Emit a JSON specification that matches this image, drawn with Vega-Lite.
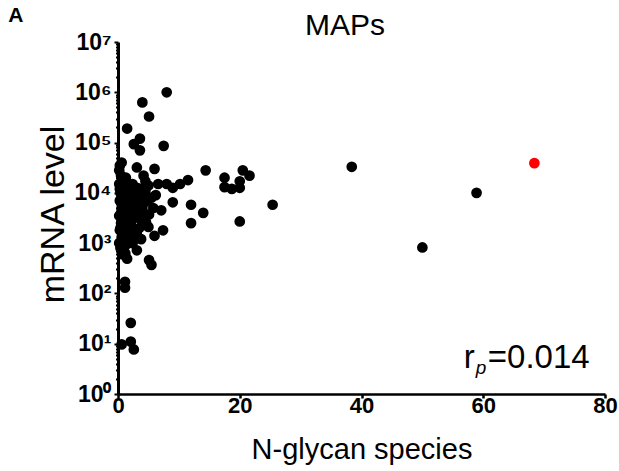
{
  "$schema": "https://vega.github.io/schema/vega-lite/v6.json",
  "autosize": {"type": "none"},
  "padding": {"left": 118, "top": 42, "right": 14, "bottom": 77},
  "width": 487,
  "height": 352,
  "background": "white",
  "config": {
    "view": {"stroke": null},
    "font": "Liberation Sans"
  },
  "layer": [
    {
      "data": {
        "values": [
          {"x": 8.0, "y": 1000000, "g": "other"},
          {"x": 4.0, "y": 630000, "g": "other"},
          {"x": 5.1, "y": 330000, "g": "other"},
          {"x": 1.5, "y": 190000, "g": "other"},
          {"x": 3.6, "y": 120000, "g": "other"},
          {"x": 2.6, "y": 93000, "g": "other"},
          {"x": 3.6, "y": 70000, "g": "other"},
          {"x": 7.5, "y": 86000, "g": "other"},
          {"x": 0.6, "y": 40000, "g": "other"},
          {"x": 3.1, "y": 32000, "g": "other"},
          {"x": 6.0, "y": 30000, "g": "other"},
          {"x": 14.4, "y": 28000, "g": "other"},
          {"x": 17.5, "y": 20000, "g": "other"},
          {"x": 20.5, "y": 28000, "g": "other"},
          {"x": 21.6, "y": 22000, "g": "other"},
          {"x": 20.0, "y": 17000, "g": "other"},
          {"x": 17.5, "y": 13000, "g": "other"},
          {"x": 18.7, "y": 12000, "g": "other"},
          {"x": 20.0, "y": 12600, "g": "other"},
          {"x": 11.5, "y": 18000, "g": "other"},
          {"x": 10.2, "y": 15000, "g": "other"},
          {"x": 9.0, "y": 12600, "g": "other"},
          {"x": 8.0, "y": 15000, "g": "other"},
          {"x": 6.6, "y": 15000, "g": "other"},
          {"x": 4.2, "y": 22000, "g": "other"},
          {"x": 3.6, "y": 12000, "g": "other"},
          {"x": 9.0, "y": 6500, "g": "other"},
          {"x": 12.0, "y": 5800, "g": "other"},
          {"x": 14.0, "y": 4000, "g": "other"},
          {"x": 12.0, "y": 2500, "g": "other"},
          {"x": 25.4, "y": 5800, "g": "other"},
          {"x": 20.0, "y": 2700, "g": "other"},
          {"x": 7.1, "y": 4500, "g": "other"},
          {"x": 7.4, "y": 1800, "g": "other"},
          {"x": 5.1, "y": 3700, "g": "other"},
          {"x": 5.0, "y": 2100, "g": "other"},
          {"x": 6.0, "y": 1400, "g": "other"},
          {"x": 3.1, "y": 720, "g": "other"},
          {"x": 1.5, "y": 490, "g": "other"},
          {"x": 5.1, "y": 460, "g": "other"},
          {"x": 5.5, "y": 370, "g": "other"},
          {"x": 1.2, "y": 630, "g": "other"},
          {"x": 1.15, "y": 170, "g": "other"},
          {"x": 1.15, "y": 130, "g": "other"},
          {"x": 2.1, "y": 26, "g": "other"},
          {"x": 0.6, "y": 9.7, "g": "other"},
          {"x": 2.1, "y": 11, "g": "other"},
          {"x": 2.6, "y": 7.7, "g": "other"},
          {"x": 38.4, "y": 33000, "g": "other"},
          {"x": 58.9, "y": 10000, "g": "other"},
          {"x": 50.0, "y": 820, "g": "other"},
          {"x": 4.5, "y": 17000, "g": "other"},
          {"x": 3.9, "y": 11000, "g": "other"},
          {"x": 3.1, "y": 12600, "g": "other"},
          {"x": 0.3, "y": 35000, "g": "other"},
          {"x": 0.5, "y": 22000, "g": "other"},
          {"x": 0.2, "y": 15000, "g": "other"},
          {"x": 0.4, "y": 10000, "g": "other"},
          {"x": 0.3, "y": 7000, "g": "other"},
          {"x": 0.6, "y": 5000, "g": "other"},
          {"x": 0.2, "y": 3500, "g": "other"},
          {"x": 0.5, "y": 2500, "g": "other"},
          {"x": 0.3, "y": 1800, "g": "other"},
          {"x": 0.6, "y": 1300, "g": "other"},
          {"x": 0.2, "y": 1000, "g": "other"},
          {"x": 0.4, "y": 800, "g": "other"},
          {"x": 0.7, "y": 600, "g": "other"},
          {"x": 0.3, "y": 12000, "g": "other"},
          {"x": 0.8, "y": 8000, "g": "other"},
          {"x": 0.5, "y": 4000, "g": "other"},
          {"x": 0.9, "y": 3000, "g": "other"},
          {"x": 0.4, "y": 2000, "g": "other"},
          {"x": 1.0, "y": 1500, "g": "other"},
          {"x": 0.8, "y": 1100, "g": "other"},
          {"x": 0.2, "y": 28000, "g": "other"},
          {"x": 0.7, "y": 18000, "g": "other"},
          {"x": 0.6, "y": 700, "g": "other"},
          {"x": 1.2, "y": 9000, "g": "other"},
          {"x": 1.5, "y": 6000, "g": "other"},
          {"x": 1.3, "y": 4500, "g": "other"},
          {"x": 1.8, "y": 3500, "g": "other"},
          {"x": 1.1, "y": 2700, "g": "other"},
          {"x": 1.6, "y": 2200, "g": "other"},
          {"x": 1.4, "y": 1600, "g": "other"},
          {"x": 1.9, "y": 1200, "g": "other"},
          {"x": 1.2, "y": 900, "g": "other"},
          {"x": 1.7, "y": 13000, "g": "other"},
          {"x": 1.3, "y": 20000, "g": "other"},
          {"x": 1.5, "y": 7500, "g": "other"},
          {"x": 1.8, "y": 5200, "g": "other"},
          {"x": 1.1, "y": 3800, "g": "other"},
          {"x": 1.6, "y": 2900, "g": "other"},
          {"x": 1.2, "y": 2000, "g": "other"},
          {"x": 1.9, "y": 1700, "g": "other"},
          {"x": 1.4, "y": 1100, "g": "other"},
          {"x": 1.0, "y": 600, "g": "other"},
          {"x": 2.2, "y": 8000, "g": "other"},
          {"x": 2.6, "y": 5500, "g": "other"},
          {"x": 2.3, "y": 4200, "g": "other"},
          {"x": 2.8, "y": 3200, "g": "other"},
          {"x": 2.1, "y": 2500, "g": "other"},
          {"x": 2.5, "y": 1900, "g": "other"},
          {"x": 2.9, "y": 1400, "g": "other"},
          {"x": 2.4, "y": 1000, "g": "other"},
          {"x": 2.2, "y": 11000, "g": "other"},
          {"x": 2.7, "y": 7000, "g": "other"},
          {"x": 2.4, "y": 15000, "g": "other"},
          {"x": 3.2, "y": 6000, "g": "other"},
          {"x": 3.6, "y": 4500, "g": "other"},
          {"x": 3.3, "y": 3600, "g": "other"},
          {"x": 3.9, "y": 2800, "g": "other"},
          {"x": 3.5, "y": 2000, "g": "other"},
          {"x": 3.1, "y": 1500, "g": "other"},
          {"x": 4.0, "y": 5000, "g": "other"},
          {"x": 4.4, "y": 3800, "g": "other"},
          {"x": 4.2, "y": 8500, "g": "other"},
          {"x": 3.4, "y": 9500, "g": "other"},
          {"x": 4.8, "y": 6800, "g": "other"},
          {"x": 4.6, "y": 2600, "g": "other"},
          {"x": 3.8, "y": 1200, "g": "other"},
          {"x": 4.5, "y": 11000, "g": "other"},
          {"x": 5.5, "y": 8000, "g": "other"},
          {"x": 5.8, "y": 5000, "g": "other"},
          {"x": 6.2, "y": 9000, "g": "other"},
          {"x": 5.0, "y": 14000, "g": "other"},
          {"x": 68.4, "y": 39000, "g": "highlight"}
        ]
      },
      "mark": {"type": "circle", "size": 115, "opacity": 1, "clip": false},
      "encoding": {
        "x": {
          "field": "x",
          "type": "quantitative",
          "scale": {"domain": [0, 80], "nice": false, "zero": false},
          "axis": {
            "values": [0, 20, 40, 60, 80],
            "title": "N-glycan species",
            "titleFontSize": 29,
            "titleFontWeight": "normal",
            "titleColor": "black",
            "titleFont": "Liberation Sans",
            "titleBaseline": "alphabetic",
            "titleY": 64,
            "labelFontSize": 22,
            "labelFontWeight": "bold",
            "labelColor": "black",
            "labelFont": "Liberation Sans",
            "labelPadding": -3,
            "labelFlush": false,
            "labelOverlap": false,
            "tickSize": 4,
            "tickWidth": 2.5,
            "tickColor": "black",
            "domainColor": "black",
            "domainWidth": 2.5,
            "grid": false
          }
        },
        "y": {
          "field": "y",
          "type": "quantitative",
          "scale": {"type": "log", "domain": [1, 10000000], "nice": false},
          "axis": {
            "values": [1, 2, 3, 4, 5, 6, 7, 8, 9, 10, 20, 30, 40, 50, 60, 70, 80, 90, 100, 200, 300, 400, 500, 600, 700, 800, 900, 1000, 2000, 3000, 4000, 5000, 6000, 7000, 8000, 9000, 10000, 20000, 30000, 40000, 50000, 60000, 70000, 80000, 90000, 100000, 200000, 300000, 400000, 500000, 600000, 700000, 800000, 900000, 1000000, 2000000, 3000000, 4000000, 5000000, 6000000, 7000000, 8000000, 9000000, 10000000],
            "labelExpr": "abs(log(datum.value)/LN10 - round(log(datum.value)/LN10)) < 0.000001 ? '10' + ['⁰','¹','²','³','⁴','⁵','⁶','⁷'][round(log(datum.value)/LN10)] : ''",
            "title": "mRNA level",
            "titleFontSize": 34,
            "titleFontWeight": "normal",
            "titleColor": "black",
            "titleFont": "Liberation Sans",
            "titleAngle": -90,
            "titleBaseline": "alphabetic",
            "titleAlign": "center",
            "titleX": -55,
            "titleY": 172,
            "labelFontSize": 23,
            "labelFontWeight": "bold",
            "labelColor": "black",
            "labelFont": "Liberation Sans",
            "labelPadding": 3,
            "labelFlush": false,
            "labelOverlap": false,
            "tickSize": {"condition": {"test": "abs(log(datum.value)/LN10 - round(log(datum.value)/LN10)) < 0.000001", "value": 4}, "value": 2.5},
            "tickWidth": 2,
            "tickColor": "black",
            "domainColor": "black",
            "domainWidth": 3,
            "grid": false
          }
        },
        "color": {
          "field": "g",
          "type": "nominal",
          "scale": {"domain": ["other", "highlight"], "range": ["#000000", "#ff0000"]},
          "legend": null
        }
      }
    },
    {
      "data": {"values": [{"x": 37.3, "y": 13800000, "t": "MAPs"}]},
      "mark": {"type": "text", "align": "center", "baseline": "alphabetic", "fontSize": 30, "font": "Liberation Sans", "color": "black", "clip": false},
      "encoding": {
        "x": {"field": "x", "type": "quantitative"},
        "y": {"field": "y", "type": "quantitative"},
        "text": {"field": "t"}
      }
    },
    {
      "data": {"values": [{"x": 60.75, "y": 3.29, "t": "=0.014"}]},
      "mark": {"type": "text", "align": "left", "baseline": "alphabetic", "fontSize": 33, "font": "Liberation Sans", "color": "black", "clip": false},
      "encoding": {
        "x": {"field": "x", "type": "quantitative"},
        "y": {"field": "y", "type": "quantitative"},
        "text": {"field": "t"}
      }
    },
    {
      "data": {"values": [{"x": 60.75, "y": 3.29, "t": "r"}]},
      "mark": {"type": "text", "align": "right", "baseline": "alphabetic", "fontSize": 33, "font": "Liberation Sans", "color": "black", "dx": -13, "clip": false},
      "encoding": {
        "x": {"field": "x", "type": "quantitative"},
        "y": {"field": "y", "type": "quantitative"},
        "text": {"field": "t"}
      }
    },
    {
      "data": {"values": [{"x": 60.75, "y": 3.29, "t": "p"}]},
      "mark": {"type": "text", "align": "left", "baseline": "alphabetic", "fontSize": 19, "fontStyle": "italic", "font": "Liberation Sans", "color": "black", "dx": -12, "dy": 6, "clip": false},
      "encoding": {
        "x": {"field": "x", "type": "quantitative"},
        "y": {"field": "y", "type": "quantitative"},
        "text": {"field": "t"}
      }
    },
    {
      "data": {"values": [{"x": -16.8, "y": 25000000, "t": "A"}]},
      "mark": {"type": "text", "align": "center", "baseline": "alphabetic", "fontSize": 21, "fontWeight": "bold", "font": "Liberation Sans", "color": "black", "clip": false},
      "encoding": {
        "x": {"field": "x", "type": "quantitative"},
        "y": {"field": "y", "type": "quantitative"},
        "text": {"field": "t"}
      }
    }
  ]
}
